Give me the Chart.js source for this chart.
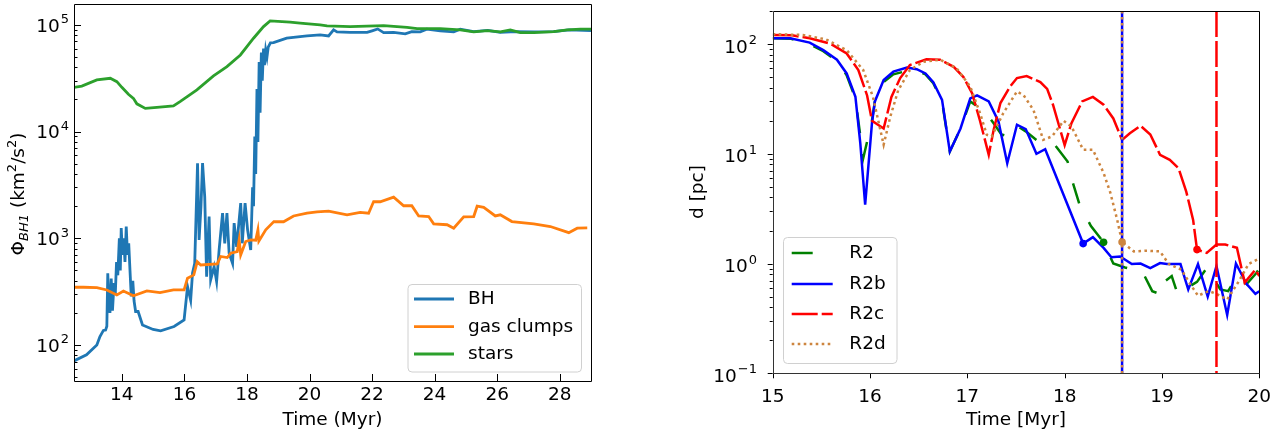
<!DOCTYPE html>
<html lang="en">
<head>
<meta charset="UTF-8">
<title>BH potential and separation</title>
<script src="https://cdn.jsdelivr.net/npm/chart.js"></script>
<style>
  body { margin: 0; background: #fff; width: 1282px; height: 432px; overflow: hidden; position: relative; }
  .panel { position: absolute; top: 0; width: 610px; height: 432px; }
  #potPanel { left: 0; }
  #sepPanel { left: 672px; }
</style>
</head>
<body>
<div class="panel" id="potPanel"><canvas id="potChart" width="610" height="432"></canvas></div>
<div class="panel" id="sepPanel"><canvas id="sepChart" width="610" height="432"></canvas></div>
<script>
// ---- left panel: potential at the BH position (km^2/s^2) ----
const potBhTime = [12.47, 12.87, 13.2, 13.3, 13.41, 13.48, 13.52, 13.55, 13.58, 13.62, 13.66, 13.7, 13.75, 13.79, 13.83, 13.87, 13.92, 13.95, 13.98, 14.02, 14.06, 14.1, 14.14, 14.18, 14.22, 14.26, 14.3, 14.35, 14.39, 14.44, 14.52, 14.66, 15.0, 15.24, 15.67, 15.99, 16.1, 16.2, 16.26, 16.33, 16.42, 16.47, 16.53, 16.58, 16.65, 16.71, 16.79, 16.84, 16.95, 17.03, 17.11, 17.22, 17.29, 17.36, 17.43, 17.54, 17.59, 17.67, 17.8, 17.85, 17.94, 18.02, 18.12, 18.18, 18.21, 18.25, 18.28, 18.32, 18.35, 18.39, 18.42, 18.46, 18.49, 18.53, 18.56, 18.6, 18.64, 18.68, 18.75, 18.85, 19.27, 19.7, 19.92, 20.34, 20.61, 20.77, 20.88, 21.3, 21.84, 22.0, 22.18, 22.37, 22.69, 23.06, 23.27, 23.54, 23.75, 24.18, 24.61, 24.82, 25.25, 25.7, 26.1, 26.6, 27.2, 27.8, 28.3, 29.0];
const potBhValue = [71, 81, 100, 120, 137, 138, 150, 470, 260, 200, 420, 210, 380, 300, 600, 450, 1000, 500, 1250, 700, 1000, 600, 1290, 700, 900, 500, 285, 400, 260, 206, 206, 154, 140, 136, 149, 172, 353, 263, 474, 583, 5060, 966, 2000, 5060, 2450, 437, 1600, 408, 543, 393, 778, 1720, 898, 1720, 725, 583, 1390, 832, 2140, 898, 2140, 1200, 778, 3000, 2000, 9000, 4000, 25000, 8000, 45000, 15000, 55000, 30000, 60000, 42000, 58000, 50000, 62000, 68000, 68200, 75000, 77800, 78800, 80600, 78800, 89800, 86000, 85000, 85000, 88000, 91700, 84700, 85000, 82300, 86600, 86000, 91200, 87900, 86000, 91200, 86600, 89000, 85000, 86600, 86000, 86600, 89800, 88500];

const potGasTime = [12.47, 12.77, 13.2, 13.52, 13.84, 14.05, 14.37, 14.8, 15.22, 15.65, 15.99, 16.1, 16.3, 16.41, 16.52, 17.05, 17.16, 17.37, 17.48, 17.69, 17.75, 17.8, 17.96, 18.12, 18.28, 18.35, 18.38, 18.6, 18.86, 19.17, 19.49, 19.92, 20.24, 20.61, 21.2, 21.62, 21.89, 22.05, 22.26, 22.69, 23.01, 23.27, 23.49, 23.81, 23.97, 24.4, 24.61, 24.93, 25.25, 25.36, 25.57, 25.94, 26.1, 26.47, 27.17, 27.7, 28.29, 28.56, 28.88];
const potGasValue = [348, 348, 345, 328, 295, 321, 289, 321, 310, 328, 328, 423, 454, 605, 562, 575, 676, 660, 725, 751, 966, 700, 933, 966, 960, 1200, 940, 1200, 1435, 1430, 1620, 1720, 1770, 1800, 1660, 1750, 1720, 2210, 2200, 2430, 2020, 2020, 1620, 1600, 1365, 1340, 1245, 1590, 1600, 2000, 1950, 1620, 1660, 1435, 1365, 1290, 1130, 1245, 1250];

const potStarTime = [12.47, 12.72, 13.2, 13.63, 13.84, 14.0, 14.21, 14.37, 14.48, 14.75, 15.12, 15.65, 15.86, 16.4, 16.93, 17.36, 17.79, 18.21, 18.53, 18.74, 19.38, 19.7, 20.34, 20.56, 21.3, 22.37, 23.12, 23.44, 24.18, 24.82, 25.25, 25.68, 26.1, 26.42, 26.74, 27.17, 27.81, 28.24, 28.66, 29.0];
const potStarValue = [26000, 26700, 30500, 31600, 29400, 26000, 22400, 20500, 18200, 16500, 16900, 17400, 19100, 24600, 33300, 40600, 52300, 75000, 96400, 109000, 106000, 104000, 100000, 97900, 96500, 98600, 95000, 92300, 92300, 89800, 86000, 88500, 86000, 89800, 84700, 84700, 86600, 89800, 91200, 91200];

const potXTicks = [14, 16, 18, 20, 22, 24, 26, 28];
const potYDecades = [100, 1000, 10000, 100000];

// ---- right panel: BH pair separation d [pc] per run ----
const sepR2Time = [15.0, 15.18, 15.38, 15.52, 15.66, 15.76, 15.85, 15.93, 16.02, 16.05, 16.14, 16.24, 16.38, 16.48, 16.57, 16.65, 16.74, 16.82, 16.93, 17.03, 17.13, 17.2, 17.27, 17.35, 17.42, 17.51, 17.6, 17.75, 17.9, 18.03, 18.08, 18.15, 18.27, 18.4, 18.5, 18.62, 18.8, 18.9, 19.0, 19.03, 19.1, 19.16, 19.36, 19.46, 19.6, 19.68, 19.77, 19.87, 19.97, 20.0];
const sepR2Dist = [113, 112, 100, 86, 70, 52, 32, 9.1, 20, 30, 45, 53, 57, 57, 53, 44, 30, 10.5, 17, 30, 26, 23, 19, 15, 14.4, 18, 16, 12.5, 12, 8.5, 5.6, 3.5, 2.2, 1.56, 1.0, 0.92, 0.84, 0.56, 0.52, 0.69, 0.77, 0.53, 0.68, 0.91, 0.58, 0.56, 0.77, 0.65, 0.82, 0.9];

const sepR2bTime = [15.0, 15.18, 15.38, 15.52, 15.66, 15.76, 15.85, 15.9, 15.95, 16.02, 16.05, 16.14, 16.24, 16.38, 16.48, 16.57, 16.65, 16.74, 16.82, 16.93, 17.03, 17.1, 17.22, 17.32, 17.41, 17.51, 17.6, 17.71, 17.8, 18.19, 18.29, 18.4, 18.48, 18.57, 18.69, 18.78, 18.88, 18.98, 19.05, 19.19, 19.27, 19.37, 19.47, 19.56, 19.67, 19.76, 19.87, 19.96, 20.0];
const sepR2bDist = [113, 113, 103, 88, 72, 54, 33, 12.5, 3.44, 19, 30, 47, 56, 61, 59, 54, 45, 31, 10.5, 17, 32, 34, 30, 19.7, 8.2, 18.4, 16.8, 10, 11, 1.52, 1.74, 1.39, 1.14, 1.16, 0.99, 1.0, 0.91, 1.01, 0.99, 0.99, 0.58, 0.99, 0.5, 0.95, 0.34, 1.0, 0.65, 0.53, 0.56];

const sepR2cTime = [15.0, 15.2, 15.38, 15.59, 15.76, 15.88, 15.97, 16.02, 16.14, 16.22, 16.31, 16.41, 16.58, 16.72, 16.86, 16.96, 17.05, 17.13, 17.22, 17.27, 17.34, 17.44, 17.51, 17.61, 17.75, 17.82, 17.88, 18.0, 18.07, 18.18, 18.29, 18.4, 18.5, 18.59, 18.67, 18.78, 18.88, 18.98, 19.08, 19.17, 19.25, 19.32, 19.36, 19.46, 19.56, 19.65, 19.77, 19.85, 19.96, 20.0];
const sepR2cDist = [121, 120, 113, 101, 82, 58, 34, 20, 17, 33, 49, 64.5, 72.5, 72, 62, 50, 35.5, 20, 9.8, 16.5, 29, 41, 49, 51, 45, 39, 28, 12, 19, 30, 33, 28, 21, 13.4, 15.4, 18, 15, 9.8, 8.8, 7.4, 4.5, 2.5, 1.34, 1.25, 1.49, 1.49, 1.39, 0.67, 0.88, 0.77];

const sepR2dTime = [15.0, 15.31, 15.55, 15.76, 15.93, 16.03, 16.14, 16.21, 16.29, 16.41, 16.55, 16.72, 16.89, 17.03, 17.13, 17.2, 17.25, 17.37, 17.51, 17.58, 17.68, 17.78, 17.87, 17.99, 18.07, 18.19, 18.29, 18.4, 18.47, 18.54, 18.59, 18.71, 18.84, 18.98, 19.07, 19.2, 19.29, 19.37, 19.48, 19.56, 19.67, 19.79, 19.89, 19.99];
const sepR2dDist = [123, 121, 110, 88, 58, 33, 12.1, 22, 38, 58, 69, 72, 60, 41, 23.5, 14.9, 14.4, 23.5, 37, 34, 25, 13.4, 14.4, 20, 17.7, 10.9, 10.9, 6.7, 4.4, 2.5, 1.57, 1.29, 1.31, 1.29, 0.99, 0.88, 0.65, 0.51, 0.56, 0.53, 0.47, 0.69, 0.99, 1.1];

// binary formation: time and separation marked with a dot, in run order R2, R2b, R2c, R2d
const sepRuns = ['R2', 'R2b', 'R2c', 'R2d'];
const sepBoundTime = [18.4, 18.19, 19.36, 18.59];
const sepBoundDist = [1.56, 1.52, 1.34, 1.57];
// merger times drawn as vertical lines (R2 has none)
const sepMergeTime = [null, 18.59, 19.56, 18.59];

const sepXTicks = [15, 16, 17, 18, 19, 20];
const sepYDecades = [0.1, 1, 10, 100];

const FONT = '"DejaVu Sans", sans-serif';
const zip = (xs, ys) => xs.map((x, i) => ({ x: x, y: ys[i] }));

// log-axis labels like 10^5, with a raised exponent
function drawPowerLabels(ctx, scale, values, xRight, baseDrop) {
    ctx.save();
    ctx.fillStyle = '#000';
    ctx.textAlign = 'left';
    ctx.textBaseline = 'alphabetic';
    values.forEach(v => {
        const e = Math.round(Math.log10(v));
        const sup = e < 0 ? '\u2212' + (-e) : String(e);
        const py = scale.getPixelForValue(v);
        ctx.font = '18.5px ' + FONT;
        const wb = ctx.measureText('10').width;
        ctx.font = '13px ' + FONT;
        const ws = ctx.measureText(sup).width;
        const x0 = xRight - wb - ws - 1;
        ctx.font = '18.5px ' + FONT;
        ctx.fillText('10', x0, py + baseDrop);
        ctx.font = '13px ' + FONT;
        ctx.fillText(sup, x0 + wb + 1, py + baseDrop - 8.5);
    });
    ctx.restore();
}

// x tick labels and x axis title, placed by baseline
function drawXText(ctx, chart, values, labelBase, title, titleBase) {
    const xs = chart.scales.x, a = chart.chartArea;
    ctx.save();
    ctx.fillStyle = '#000';
    ctx.font = '18.5px ' + FONT;
    ctx.textAlign = 'center';
    ctx.textBaseline = 'alphabetic';
    values.forEach(v => ctx.fillText(String(v), xs.getPixelForValue(v), labelBase));
    ctx.fillText(title, (a.left + a.right) / 2, titleBase);
    ctx.restore();
}

// spines plus major/minor ticks, matplotlib style
function drawFrame(chart, cfg) {
    const { ctx, chartArea: a } = chart;
    const xs = chart.scales.x, ys = chart.scales.y;
    const dir = cfg.inward ? -1 : 1;
    ctx.save();
    ctx.lineWidth = 1;
    ctx.strokeStyle = '#000';
    ctx.beginPath();
    cfg.xTicks.forEach(v => {
        const px = Math.round(xs.getPixelForValue(v)) + 0.5;
        ctx.moveTo(px, a.bottom);
        ctx.lineTo(px, a.bottom + dir * cfg.major);
    });
    const lo = Math.floor(Math.log10(ys.min)), hi = Math.ceil(Math.log10(ys.max));
    for (let d = lo; d <= hi; d++) {
        for (let k = 1; k <= 9; k++) {
            const v = k * Math.pow(10, d);
            if (v < ys.min * 0.999 || v > ys.max * 1.001) continue;
            const len = k === 1 ? cfg.major : cfg.minor;
            const py = Math.round(ys.getPixelForValue(v)) + 0.5;
            ctx.moveTo(a.left, py);
            ctx.lineTo(a.left - dir * len, py);
        }
    }
    ctx.stroke();
    const l = Math.round(a.left) + 0.5, r = Math.round(a.right) + 0.5;
    const t = Math.round(a.top) + 0.5, b = Math.round(a.bottom) + 0.5;
    ctx.strokeStyle = cfg.spineLB;
    ctx.beginPath();
    ctx.moveTo(l, t); ctx.lineTo(l, b); ctx.lineTo(r, b);
    ctx.stroke();
    ctx.strokeStyle = cfg.spineTR;
    ctx.beginPath();
    ctx.moveTo(l, t); ctx.lineTo(r, t); ctx.lineTo(r, b);
    ctx.stroke();
    ctx.restore();
}

function roundRect(ctx, x, y, w, h, r) {
    ctx.beginPath();
    ctx.moveTo(x + r, y);
    ctx.arcTo(x + w, y, x + w, y + h, r);
    ctx.arcTo(x + w, y + h, x, y + h, r);
    ctx.arcTo(x, y + h, x, y, r);
    ctx.arcTo(x, y, x + w, y, r);
    ctx.closePath();
}

// legend box inside the axes, one row per listed dataset
function drawLegend(chart, lg) {
    const ctx = chart.ctx;
    ctx.save();
    roundRect(ctx, lg.x + 0.5, lg.y + 0.5, lg.w, lg.h, 4);
    ctx.fillStyle = 'rgba(255,255,255,0.8)';
    ctx.fill();
    ctx.strokeStyle = '#d0d0d0';
    ctx.lineWidth = 1;
    ctx.stroke();
    lg.rows.forEach((idx, i) => {
        const ds = chart.data.datasets[idx];
        const y = lg.rowY[i];
        ctx.strokeStyle = ds.borderColor;
        ctx.lineWidth = ds.borderWidth;
        ctx.lineCap = 'butt';
        ctx.setLineDash(ds.borderDash || []);
        ctx.beginPath();
        ctx.moveTo(lg.lineX0, y);
        ctx.lineTo(lg.lineX1, y);
        ctx.stroke();
        ctx.setLineDash([]);
        ctx.fillStyle = '#000';
        ctx.font = '18.5px ' + FONT;
        ctx.textBaseline = 'middle';
        ctx.textAlign = 'left';
        ctx.fillText(ds.label, lg.textX, y);
    });
    ctx.restore();
}

// ---------- left chart ----------
const potColors = ['#1f77b4', '#ff7f0e', '#2ca02c'];
const potDatasets = [
    { label: 'BH', data: zip(potBhTime, potBhValue) },
    { label: 'gas clumps', data: zip(potGasTime, potGasValue) },
    { label: 'stars', data: zip(potStarTime, potStarValue) }
].map((ds, i, all) => Object.assign(ds, {
    borderColor: potColors[i], borderWidth: 2.8, pointRadius: 0, fill: false,
    tension: 0, order: all.length - i
}));

const potPlugin = {
    id: 'potDecor',
    afterDraw(chart) {
        const ctx = chart.ctx;
        drawFrame(chart, { inward: true, major: 7, minor: 3.5, xTicks: potXTicks, spineLB: '#000', spineTR: '#000' });
        drawPowerLabels(ctx, chart.scales.y, potYDecades, 69, 6.8);
        drawXText(ctx, chart, potXTicks, 400, 'Time (Myr)', 424.5);
        // y title: Phi_BH1 (km^2/s^2)
        ctx.save();
        ctx.translate(24, 194);
        ctx.rotate(-Math.PI / 2);
        ctx.fillStyle = '#000';
        ctx.textBaseline = 'alphabetic';
        const parts = [
            { t: '\u03a6', f: '18.5px ' + FONT, dy: 0 },
            { t: 'BH1', f: 'italic 13px ' + FONT, dy: 4 },
            { t: ' (km', f: '18.5px ' + FONT, dy: 0 },
            { t: '2', f: '13px ' + FONT, dy: -8 },
            { t: '/s', f: '18.5px ' + FONT, dy: 0 },
            { t: '2', f: '13px ' + FONT, dy: -8 },
            { t: ')', f: '18.5px ' + FONT, dy: 0 }
        ];
        let total = 0;
        parts.forEach(p => { ctx.font = p.f; p.w = ctx.measureText(p.t).width; total += p.w; });
        let x = -total / 2;
        parts.forEach(p => { ctx.font = p.f; ctx.fillText(p.t, x, p.dy); x += p.w; });
        ctx.restore();
        drawLegend(chart, {
            x: 407.5, y: 284, w: 173.5, h: 87.5,
            rows: [0, 1, 2], rowY: [299, 326.7, 354],
            lineX0: 414, lineX1: 454, textX: 468
        });
    }
};

new Chart(document.getElementById('potChart'), {
    type: 'line',
    data: { datasets: potDatasets },
    options: {
        responsive: false, animation: false, devicePixelRatio: 1,
        layout: { padding: { top: 4, right: 19, left: 0, bottom: 0 } },
        plugins: { legend: { display: false }, tooltip: { enabled: false } },
        scales: {
            x: {
                type: 'linear', min: 12.47, max: 29.0,
                grid: { display: false, drawTicks: false }, border: { display: false },
                afterBuildTicks: s => { s.ticks = potXTicks.map(v => ({ value: v })); },
                afterFit: s => { s.height = 51; },
                ticks: { display: false }
            },
            y: {
                type: 'logarithmic', min: 46, max: 157000,
                grid: { display: false, drawTicks: false }, border: { display: false },
                afterBuildTicks: s => { s.ticks = potYDecades.map(v => ({ value: v })); },
                afterFit: s => { s.width = 74; },
                ticks: { display: false }
            }
        }
    },
    plugins: [potPlugin]
});

// ---------- right chart ----------
const sepStyle = [
    { color: 'green', dash: [21, 21] },
    { color: 'blue', dash: [] },
    { color: 'red', dash: [26, 4] },
    { color: 'peru', dash: [2.6, 3.4] }
];
const sepCurves = [zip(sepR2Time, sepR2Dist), zip(sepR2bTime, sepR2bDist), zip(sepR2cTime, sepR2cDist), zip(sepR2dTime, sepR2dDist)];
const sepDatasets = [];
sepRuns.forEach((run, i) => {
    sepDatasets.push({
        label: run, data: sepCurves[i], borderColor: sepStyle[i].color, borderDash: sepStyle[i].dash,
        borderWidth: 2.5, pointRadius: 0, fill: false, tension: 0
    });
});
sepRuns.forEach((run, i) => {
    if (sepMergeTime[i] === null) return;
    sepDatasets.push({
        label: run + ' merger', data: [{ x: sepMergeTime[i], y: 200 }, { x: sepMergeTime[i], y: 0.1 }],
        borderColor: sepStyle[i].color, borderDash: sepStyle[i].dash,
        borderWidth: 2.5, pointRadius: 0, fill: false
    });
});
sepRuns.forEach((run, i) => {
    sepDatasets.push({
        label: run + ' bound', data: [{ x: sepBoundTime[i], y: sepBoundDist[i] }], showLine: false,
        borderColor: sepStyle[i].color, backgroundColor: sepStyle[i].color,
        pointRadius: 3.8, pointBorderWidth: 0
    });
});
sepDatasets.forEach((ds, i) => { ds.order = sepDatasets.length - i; });

const sepPlugin = {
    id: 'sepDecor',
    afterDraw(chart) {
        const ctx = chart.ctx;
        drawFrame(chart, { inward: false, major: 5, minor: 3, xTicks: sepXTicks, spineLB: '#333', spineTR: '#000' });
        drawPowerLabels(ctx, chart.scales.y, sepYDecades, 85, 8.5);
        drawXText(ctx, chart, sepXTicks, 401.5, 'Time [Myr]', 424.5);
        ctx.save();
        ctx.translate(26, 192);
        ctx.rotate(-Math.PI / 2);
        ctx.fillStyle = '#000';
        ctx.font = '18.5px ' + FONT;
        ctx.textAlign = 'center';
        ctx.textBaseline = 'middle';
        ctx.fillText('d [pc]', 0, 0);
        ctx.restore();
        drawLegend(chart, {
            x: 111, y: 237, w: 113.5, h: 126,
            rows: [0, 1, 2, 3], rowY: [253, 284, 314, 344],
            lineX0: 119.7, lineX1: 160.7, textX: 177.3
        });
    }
};

new Chart(document.getElementById('sepChart'), {
    type: 'line',
    data: { datasets: sepDatasets },
    options: {
        responsive: false, animation: false, devicePixelRatio: 1,
        layout: { padding: { top: 11, right: 22.7, left: 0, bottom: 0 } },
        plugins: { legend: { display: false }, tooltip: { enabled: false } },
        scales: {
            x: {
                type: 'linear', min: 15, max: 20,
                grid: { display: false, drawTicks: false }, border: { display: false },
                afterBuildTicks: s => { s.ticks = sepXTicks.map(v => ({ value: v })); },
                afterFit: s => { s.height = 58.7; },
                ticks: { display: false }
            },
            y: {
                type: 'logarithmic', min: 0.1, max: 200,
                grid: { display: false, drawTicks: false }, border: { display: false },
                afterBuildTicks: s => { s.ticks = sepYDecades.map(v => ({ value: v })); },
                afterFit: s => { s.width = 100.7; },
                ticks: { display: false }
            }
        }
    },
    plugins: [sepPlugin]
});
</script>
</body>
</html>
